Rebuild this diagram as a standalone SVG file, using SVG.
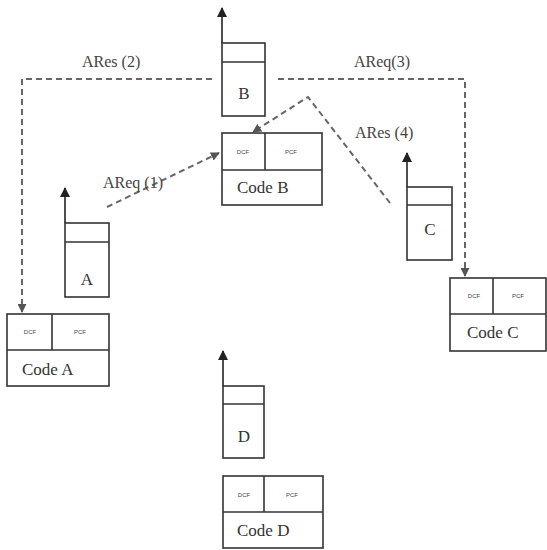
<svg xmlns="http://www.w3.org/2000/svg" width="547" height="550" viewBox="0 0 547 550">
<defs>
<marker id="solid" viewBox="0 0 10 10" refX="9" refY="5" markerWidth="10" markerHeight="10" markerUnits="userSpaceOnUse" orient="auto"><path d="M0,0 L10,5 L0,10 z" fill="#222"/></marker>
<marker id="dash" viewBox="0 0 10 10" refX="9" refY="5" markerWidth="9" markerHeight="9" markerUnits="userSpaceOnUse" orient="auto"><path d="M0,0 L10,5 L0,10 z" fill="#555"/></marker>
</defs>
<style>
.box{fill:#fff;stroke:#333;stroke-width:1.6}
.ln{stroke:#333;stroke-width:1.6;fill:none}
.up{stroke:#222;stroke-width:1.6;fill:none;marker-end:url(#solid)}
.dl{stroke:#666;stroke-width:2;stroke-dasharray:6,4;fill:none;marker-end:url(#dash)}
.t{font-family:"Liberation Serif",serif;font-size:17px;fill:#333}
.lab{font-family:"Liberation Serif",serif;font-size:16px;fill:#444}
.s{font-family:"Liberation Sans",sans-serif;font-size:6px;fill:#444;text-anchor:middle}
</style>
<rect width="547" height="550" fill="#fff"/>
<g id="connectors">
<polyline class="dl" points="212,79 22,79 22,312"/>
<polyline class="dl" points="278,79 465,79 465,276"/>
<polyline class="dl" points="107,207 219,153"/>
<polyline class="dl" points="390,203 308,97 253,132"/>
<line class="up" x1="222" y1="43" x2="222" y2="8"/>
<line class="up" x1="65" y1="223" x2="65" y2="188"/>
<line class="up" x1="407" y1="187" x2="407" y2="153"/>
<line class="up" x1="223" y1="386" x2="223" y2="351"/>
<text class="lab" x="82" y="67">ARes (2)</text>
<text class="lab" x="354" y="67">AReq(3)</text>
<text class="lab" x="103" y="188">AReq (1)</text>
<text class="lab" x="355" y="138">ARes (4)</text>
</g>
<g id="stackB">
<rect class="box" x="222" y="43" width="43" height="73"/>
<line class="ln" x1="222" y1="62" x2="265" y2="62"/>
<text class="t" x="244" y="99" text-anchor="middle">B</text>
</g>
<g id="codeB">
<rect class="box" x="222" y="133" width="100" height="72"/>
<line class="ln" x1="222" y1="170" x2="322" y2="170"/>
<line class="ln" x1="265" y1="133" x2="265" y2="170"/>
<text class="s" x="243" y="154">DCF</text>
<text class="s" x="291" y="154">PCF</text>
<text class="t" x="237" y="193">Code B</text>
</g>
<g id="stackA">
<rect class="box" x="65" y="223" width="44" height="74"/>
<line class="ln" x1="65" y1="242" x2="109" y2="242"/>
<text class="t" x="87" y="285" text-anchor="middle">A</text>
</g>
<g id="codeA">
<rect class="box" x="7" y="314" width="102" height="72"/>
<line class="ln" x1="7" y1="350" x2="109" y2="350"/>
<line class="ln" x1="52" y1="314" x2="52" y2="350"/>
<text class="s" x="30" y="334">DCF</text>
<text class="s" x="80" y="334">PCF</text>
<text class="t" x="22" y="375">Code A</text>
</g>
<g id="stackC">
<rect class="box" x="407" y="187" width="45" height="73"/>
<line class="ln" x1="407" y1="205" x2="452" y2="205"/>
<text class="t" x="430" y="235" text-anchor="middle">C</text>
</g>
<g id="codeC">
<rect class="box" x="450" y="278" width="96" height="73"/>
<line class="ln" x1="450" y1="314" x2="546" y2="314"/>
<line class="ln" x1="493" y1="278" x2="493" y2="314"/>
<text class="s" x="474" y="298">DCF</text>
<text class="s" x="518" y="298">PCF</text>
<text class="t" x="467" y="338">Code C</text>
</g>
<g id="stackD">
<rect class="box" x="223" y="386" width="41" height="72"/>
<line class="ln" x1="223" y1="404" x2="264" y2="404"/>
<text class="t" x="244" y="442" text-anchor="middle">D</text>
</g>
<g id="codeD">
<rect class="box" x="223" y="476" width="100" height="72"/>
<line class="ln" x1="223" y1="512" x2="323" y2="512"/>
<line class="ln" x1="264" y1="476" x2="264" y2="512"/>
<text class="s" x="244" y="497">DCF</text>
<text class="s" x="292" y="497">PCF</text>
<text class="t" x="237" y="536">Code D</text>
</g>
</svg>
